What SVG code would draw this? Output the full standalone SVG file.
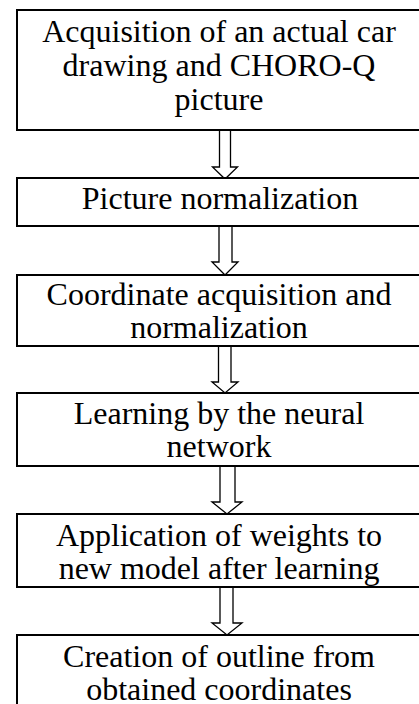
<svg xmlns="http://www.w3.org/2000/svg" width="419" height="704" viewBox="0 0 419 704">
<style>
.box{fill:#fff;stroke:#000;stroke-width:2}
.arr{fill:#fff;stroke:#000;stroke-width:1.3;stroke-linejoin:miter}
text{font-family:"Liberation Serif","Times New Roman",serif;font-size:32px;fill:#000;text-anchor:middle}
</style>
<rect width="419" height="704" fill="#fff"/>
<g id="connectors">
<polygon class="arr" points="219.5,130 230.5,130 230.5,167 237.5,167 225,179 212.5,167 219.5,167"/>
<polygon class="arr" points="219,226 232,226 232,262 238,262 225,275 212,262 219,262"/>
<polygon class="arr" points="218.5,346 231,346 231,382 238,382 225,393 212,382 218.5,382"/>
<polygon class="arr" points="220,466 235,466 235,502 242,502 227,514 212,502 220,502"/>
<polygon class="arr" points="220,587 233,587 233,623 242,623 227,635 212,623 220,623"/>
</g>
<g id="n1">
<rect class="box" x="17" y="10" width="420" height="120"/>
<text x="219" y="42">Acquisition of an actual car</text>
<text x="219" y="76">drawing and CHORO-Q</text>
<text x="219" y="110">picture</text>
</g>
<g id="n2">
<rect class="box" x="17" y="178" width="420" height="48"/>
<text x="220" y="209">Picture normalization</text>
</g>
<g id="n3">
<rect class="box" x="17" y="275" width="420" height="71"/>
<text x="219" y="305">Coordinate acquisition and</text>
<text x="219" y="338">normalization</text>
</g>
<g id="n4">
<rect class="box" x="17" y="393" width="420" height="73"/>
<text x="219" y="424">Learning by the neural</text>
<text x="219" y="457">network</text>
</g>
<g id="n5">
<rect class="box" x="17" y="514" width="420" height="73"/>
<text x="219" y="546">Application of weights to</text>
<text x="219" y="579">new model after learning</text>
</g>
<g id="n6">
<rect class="box" x="17" y="635" width="420" height="90"/>
<text x="219" y="667">Creation of outline from</text>
<text x="219" y="700">obtained coordinates</text>
</g>
</svg>
